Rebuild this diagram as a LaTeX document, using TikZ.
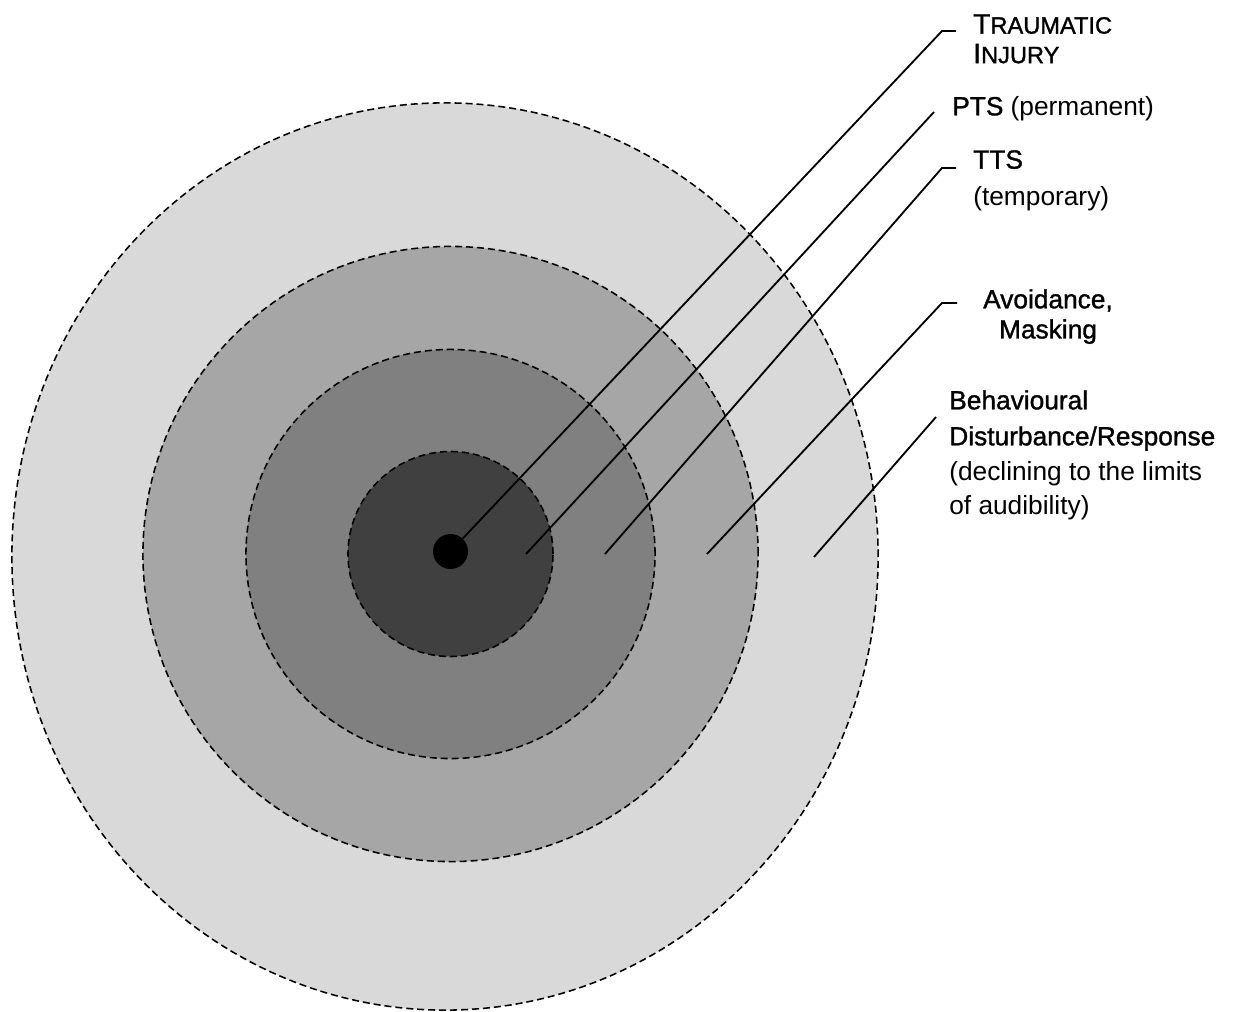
\documentclass[tikz,border=0pt]{standalone}
\usepackage{fontspec}
\setmainfont{Liberation Sans}
\newfontfamily\heavyfont[FakeBold=1.2]{Liberation Sans}
\usepackage{tikz}
\usetikzlibrary{shapes.geometric}
\definecolor{zoneA}{gray}{0.85}
\definecolor{zoneB}{gray}{0.65}
\definecolor{zoneC}{gray}{0.50}
\definecolor{zoneD}{gray}{0.25}
\begin{document}
\begin{tikzpicture}
[x=0.025cm,y=-0.025cm,
					ring/.style={draw=black,dash pattern=on 5pt off 2.8pt,line width=1.1pt,inner sep=0pt},
					dot/.style={circle,fill=black,inner sep=0pt,minimum size=0.875cm},
					lead/.style={line width=1.3pt},
					lbl/.style={inner sep=0pt,anchor=north west,align=left,font=\fontsize{18.7}{20.6}\selectfont}]
					\useasboundingbox (0,0) rectangle (1239,1012);
					% zones, outermost first
					\node[ring,ellipse,fill=zoneA,minimum width=21.65cm,minimum height=22.675cm] (behav) at (445,556.5) {};
					\node[ring,circle,fill=zoneB,minimum size=15.375cm] (avoid) at (450.5,554) {};
					\node[ring,circle,fill=zoneC,minimum size=10.225cm] (tts) at (450.5,554) {};
					\node[ring,circle,fill=zoneD,minimum size=5.125cm] (pts) at (450.5,554) {};
					\node[dot] (injury) at (450.5,551.5) {};
					% leaders
					\coordinate (injury-end) at (942,31);
					\coordinate (injury-tick) at (956,31);
					\coordinate (pts-start) at (526,554);
					\coordinate (pts-end) at (934,112);
					\coordinate (tts-start) at (605,554);
					\coordinate (tts-end) at (942,168);
					\coordinate (tts-tick) at (956,168);
					\coordinate (avoid-start) at (707,554);
					\coordinate (avoid-end) at (942,303);
					\coordinate (avoid-tick) at (957,303);
					\coordinate (behav-start) at (814,557);
					\coordinate (behav-end) at (936,417);
					\draw[lead] (injury) -- (injury-end) -- (injury-tick);
					\draw[lead] (pts-start) -- (pts-end);
					\draw[lead] (tts-start) -- (tts-end) -- (tts-tick);
					\draw[lead] (avoid-start) -- (avoid-end) -- (avoid-tick);
					\draw[lead] (behav-start) -- (behav-end);
					% labels
					\node[lbl] (injury-lbl) at (973,14) {\heavyfont{\fontsize{20}{20.6}\selectfont T}{\fontsize{16.8}{20.6}\selectfont RAUMATIC}\\[0.4pt]\heavyfont{\fontsize{20}{20.6}\selectfont I}{\fontsize{16.8}{20.6}\selectfont NJURY}};
					\node[lbl] (pts-lbl) at (952,96) {{\heavyfont PTS} (permanent)};
					\node[lbl] (tts-lbl) at (973,150) {{\heavyfont TTS}\\[5.5pt](temporary)};
					\node[lbl,align=center,anchor=north] (avoid-lbl) at (1048,289) {\heavyfont Avoidance,\\[0.8pt]\heavyfont Masking};
					\node[lbl] (behav-lbl) at (949,390) {\heavyfont Behavioural\\[5pt]\heavyfont Disturbance/Response\\[4.3pt](declining to the limits\\[3.5pt]of audibility)};
				\end{tikzpicture}
\end{document}
